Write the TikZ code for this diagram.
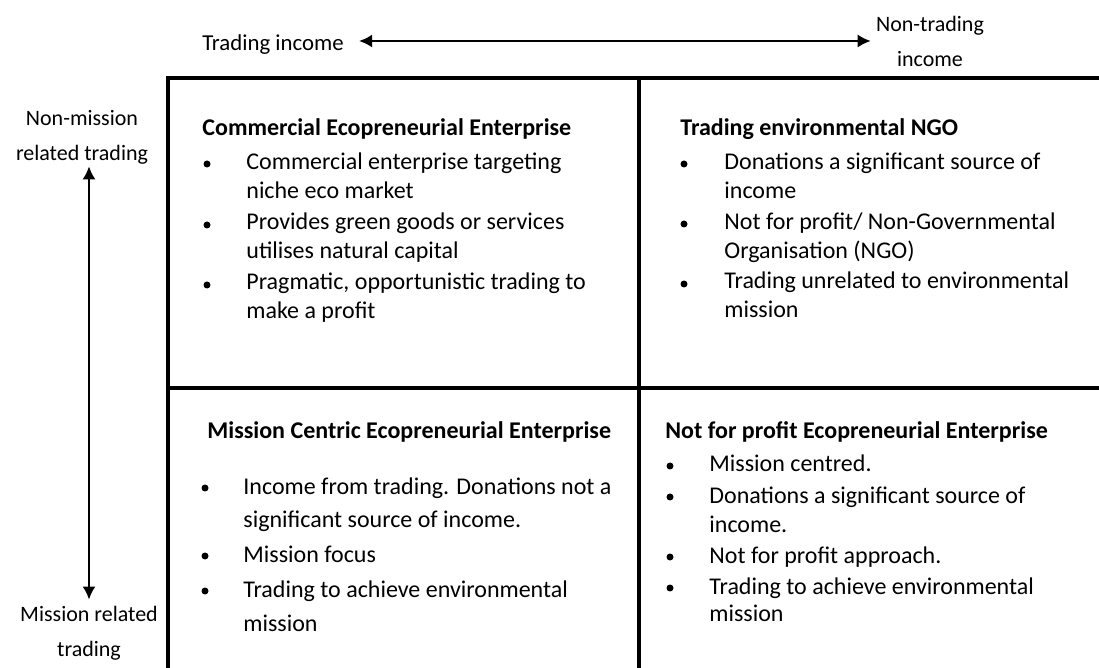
\documentclass[tikz,border=0pt]{standalone}
\usepackage{fontspec}
\setmainfont{Carlito}
\usetikzlibrary{arrows.meta,positioning}
\tikzset{>={Latex[length=6.5pt,width=6.5pt]}}
\tikzset{grid/.style={draw, line width=1.8pt},
  axis/.style={draw, line width=1pt, <->},
  lbl/.style={align=center, font=\fontsize{11}{17.5}\selectfont, inner sep=0pt},
  head/.style={anchor=base west, font=\bfseries\fontsize{12}{14.5}\selectfont, inner sep=0pt},
  itm/.style={anchor=base west, align=left, font=\fontsize{12}{14.5}\selectfont, inner sep=0pt},
  dot/.style={circle, fill=black, minimum size=3.5pt, inner sep=0pt}}

\begin{document}
\begin{tikzpicture}[x=0.5pt,y=-0.5pt]
      \useasboundingbox (0,0) rectangle (1099,668);
      % the matrix
      \draw [grid] (168,668) -- (168,78) -- (1099,78);
      \draw [grid] (639,78) -- (639,668);
      \draw [grid] (168,388) -- (1099,388);

      % axes
      \node [lbl,font=\fontsize{11.4}{17.5}\selectfont] (ti) at (273,45) {Trading income};
      \node [lbl] (nti) at (930,41) {Non-trading\\income};
      \node [lbl] (nm) at (82,137) {Non-mission\\related trading};
      \node [lbl] (mr) at (89,633) {Mission related\\trading};
      \draw [axis,shorten <=7.5pt,shorten >=2.5pt] (ti.east |- nti.west) -- (nti.west);
      \draw [axis,shorten <=1pt,shorten >=3pt] (mr.north |- nm.south) -- (mr.north);

      % top left (base = last line)
      \node [head] (ce) at (202,136) {Commercial Ecopreneurial Enterprise};
      \node [itm] (ce1) at (246,199) {Commercial enterprise targeting\\niche eco market};
      \node [itm] (ce2) at (246,259) {Provides green goods or services\\utilises natural capital};
      \node [itm] (ce3) at (246,319) {Pragmatic, opportunistic trading to\\make a profit};
      \node [dot] (ce1d) at (207,164) {};
      \node [dot] (ce2d) at (207,225) {};
      \node [dot] (ce3d) at (207,285) {};

      % top right
      \node [head] (ngo) at (680,136) {Trading environmental NGO};
      \node [itm] (ngo1) at (724,199) {Donations a significant source of\\income};
      \node [itm] (ngo2) at (724,259) {Not for profit/ Non-Governmental\\Organisation (NGO)};
      \node [itm] (ngo3) at (724,318) {Trading unrelated to environmental\\mission};
      \node [dot] (ngo1d) at (684,164) {};
      \node [dot] (ngo2d) at (684,224) {};
      \node [dot] (ngo3d) at (684,284) {};

      % bottom left
      \node [head] (mc) at (207,438) {Mission Centric Ecopreneurial Enterprise};
      \node [itm,font=\fontsize{12}{17}\selectfont] (mc1) at (243,528) {Income from trading. Donations not a\\significant source of income.};
      \node [itm] (mc2) at (243,562) {Mission focus};
      \node [itm,font=\fontsize{12}{17}\selectfont] (mc3) at (243,631) {Trading to achieve environmental\\mission};
      \node [dot] (mc1d) at (205,488) {};
      \node [dot] (mc2d) at (205,556) {};
      \node [dot] (mc3d) at (205,591) {};

      % bottom right
      \node [head] (nfp) at (665,438) {Not for profit Ecopreneurial Enterprise};
      \node [itm] (nfp1) at (709,472) {Mission centred.};
      \node [itm] (nfp2) at (709,532) {Donations a significant source of\\income.};
      \node [itm] (nfp3) at (709,563) {Not for profit approach.};
      \node [itm,font=\fontsize{12}{13.5}\selectfont] (nfp4) at (709,621) {Trading to achieve environmental\\mission};
      \node [dot] (nfp1d) at (670,466) {};
      \node [dot] (nfp2d) at (670,497) {};
      \node [dot] (nfp3d) at (670,557) {};
      \node [dot] (nfp4d) at (670,588) {};
    \end{tikzpicture}
\end{document}
